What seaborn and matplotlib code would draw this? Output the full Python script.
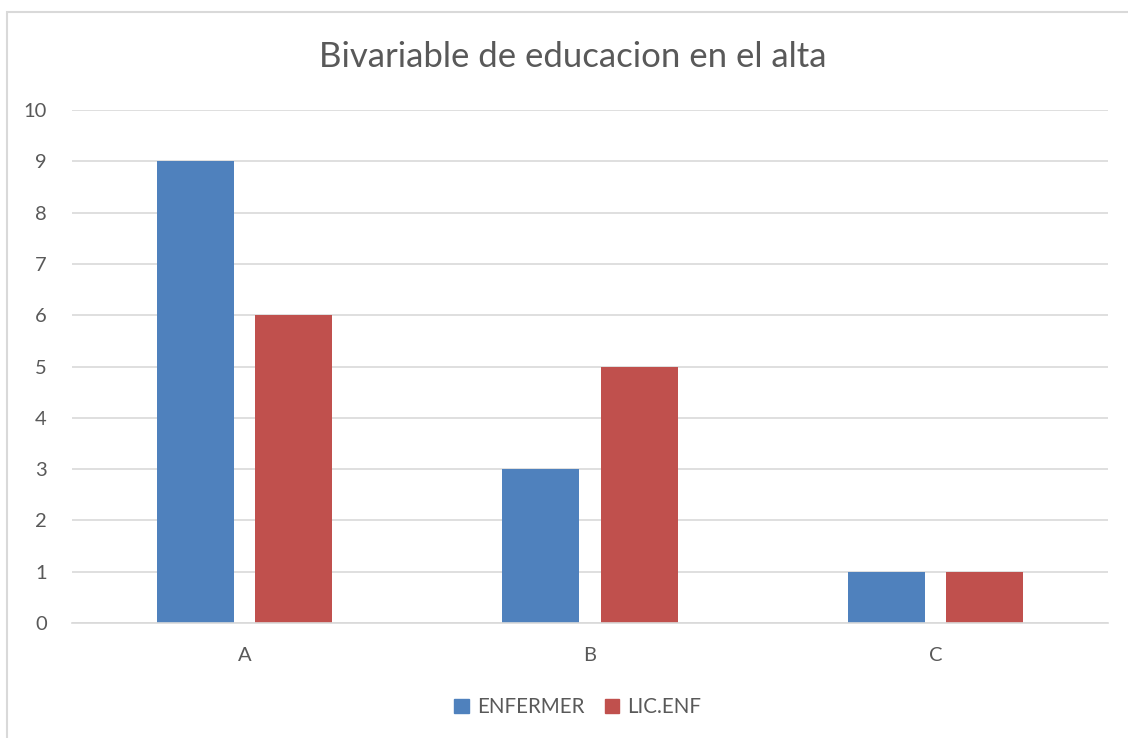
import pandas as pd
import matplotlib.pyplot as plt
import matplotlib.patches as mpatches
import seaborn as sns

# data
categories = ['A', 'B', 'C']
enfermer = [9, 3, 1]
lic_enf = [6, 5, 1]
series_names = ['ENFERMER', 'LIC.ENF']
colors = ['#4F81BD', '#C0504D']

df = pd.DataFrame({
    'cat': categories * 2,
    'serie': [series_names[0]] * 3 + [series_names[1]] * 3,
    'valor': enfermer + lic_enf,
})

sns.set_style('white')
plt.rcParams['font.family'] = ['Lato', 'DejaVu Sans']
txt = '#595959'

fig = plt.figure(figsize=(11.28, 7.38), dpi=100)
ax = fig.add_axes([72 / 1128, 1 - 623 / 738, (1108 - 72) / 1128, (623 - 110) / 738])

sns.barplot(data=df, x='cat', y='valor', hue='serie', palette=colors,
            width=0.57, gap=0.22, ax=ax, legend=False, saturation=1,
            linewidth=0)

ax.set_ylim(0, 10)
ax.set_xlim(-0.5, 2.5)
ax.set_yticks(range(0, 11))
ax.yaxis.grid(True, color='#D9D9D9', linewidth=1.2)
ax.set_axisbelow(True)
for s in ['top', 'right', 'left']:
    ax.spines[s].set_visible(False)
ax.spines['bottom'].set_color('#D9D9D9')
ax.spines['bottom'].set_linewidth(1.2)
ax.set_xlabel('')
ax.set_ylabel('')
ax.tick_params(axis='both', length=0, labelsize=14.5, labelcolor=txt)
ax.tick_params(axis='y', pad=18)
ax.tick_params(axis='x', pad=17)

fig.text(573 / 1128, 1 - 57 / 738, 'Bivariable de educacion en el alta',
         ha='center', va='center', fontsize=25, color=txt)

handles = [mpatches.Patch(color=c, label=n) for c, n in zip(colors, series_names)]
fig.legend(handles=handles, loc='center', bbox_to_anchor=(578 / 1128, 1 - 707 / 738),
           ncol=2, frameon=False, fontsize=14.8, labelcolor=txt,
           handlelength=0.7, handleheight=0.7, handletextpad=0.4, columnspacing=1.0)

# chart border (only top and left visible in the crop)
fig.add_artist(mpatches.Rectangle((7 / 1128, -0.1), 1.2, 1.1 - 12 / 738,
                                  transform=fig.transFigure, fill=False,
                                  edgecolor='#D9D9D9', linewidth=1.5))

fig.savefig('out.png', dpi=100)
